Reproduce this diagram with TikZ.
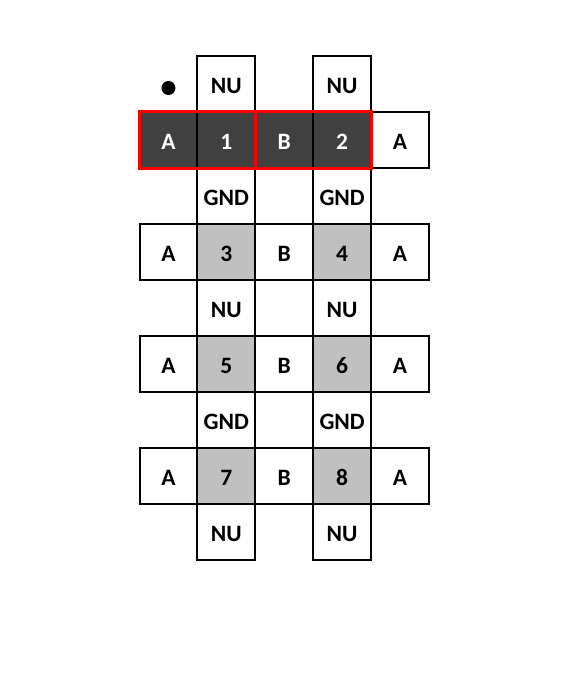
\documentclass[tikz,border=0pt]{standalone}
\usepackage{fontspec}
\setmainfont{Carlito}
\definecolor{darkcell}{HTML}{404040}
\definecolor{graycell}{HTML}{C0C0C0}
\definecolor{redline}{HTML}{FF0000}
\begin{document}
\begin{tikzpicture}[x=1pt,y=-1pt,
  cell/.style={draw=black,line width=2pt,minimum width=57.9pt,minimum height=56pt,inner sep=0pt,outer sep=0pt,text height=19.5pt,text depth=0pt,font=\fontsize{23.5}{23.5}\selectfont\bfseries},
  darkc/.style={cell,fill=darkcell,text=white},
  grayc/.style={cell,fill=graycell},
  whitec/.style={cell,fill=white},
  redbox/.style={draw=redline,line width=3pt}]
\useasboundingbox (0,0) rectangle (570,674);
% column centers
\def\ca{168.45}\def\cb{226.35}\def\cc{284.25}\def\cd{342.15}\def\ce{400.05}
% row 0
\fill (\ca,88) circle (7pt);
\node[whitec] (nu1) at (\cb,84) {NU};
\node[whitec] (nu2) at (\cd,84) {NU};
% row 1
\node[darkc] (a1) at (\ca,140) {A};
\node[darkc] (p1) at (\cb,140) {1};
\node[darkc] (b1) at (\cc,140) {B};
\node[darkc] (p2) at (\cd,140) {2};
\node[whitec] (e1) at (\ce,140) {A};
% row 2
\node[whitec] (g1) at (\cb,196) {GND};
\node[whitec] (g2) at (\cd,196) {GND};
% row 3
\node[whitec] (a3) at (\ca,252) {A};
\node[grayc] (p3) at (\cb,252) {3};
\node[whitec] (b3) at (\cc,252) {B};
\node[grayc] (p4) at (\cd,252) {4};
\node[whitec] (e3) at (\ce,252) {A};
% row 4
\node[whitec] (nu3) at (\cb,308) {NU};
\node[whitec] (nu4) at (\cd,308) {NU};
% row 5
\node[whitec] (a5) at (\ca,364) {A};
\node[grayc] (p5) at (\cb,364) {5};
\node[whitec] (b5) at (\cc,364) {B};
\node[grayc] (p6) at (\cd,364) {6};
\node[whitec] (e5) at (\ce,364) {A};
% row 6
\node[whitec] (g3) at (\cb,420) {GND};
\node[whitec] (g4) at (\cd,420) {GND};
% row 7
\node[whitec] (a7) at (\ca,476) {A};
\node[grayc] (p7) at (\cb,476) {7};
\node[whitec] (b7) at (\cc,476) {B};
\node[grayc] (p8) at (\cd,476) {8};
\node[whitec] (e7) at (\ce,476) {A};
% row 8
\node[whitec] (nu5) at (\cb,532) {NU};
\node[whitec] (nu6) at (\cd,532) {NU};
% red outlines
\draw[redbox] (a1.north west) rectangle (p1.south east);
\draw[redbox] (b1.north west) rectangle (p2.south east);
\end{tikzpicture}
\end{document}
